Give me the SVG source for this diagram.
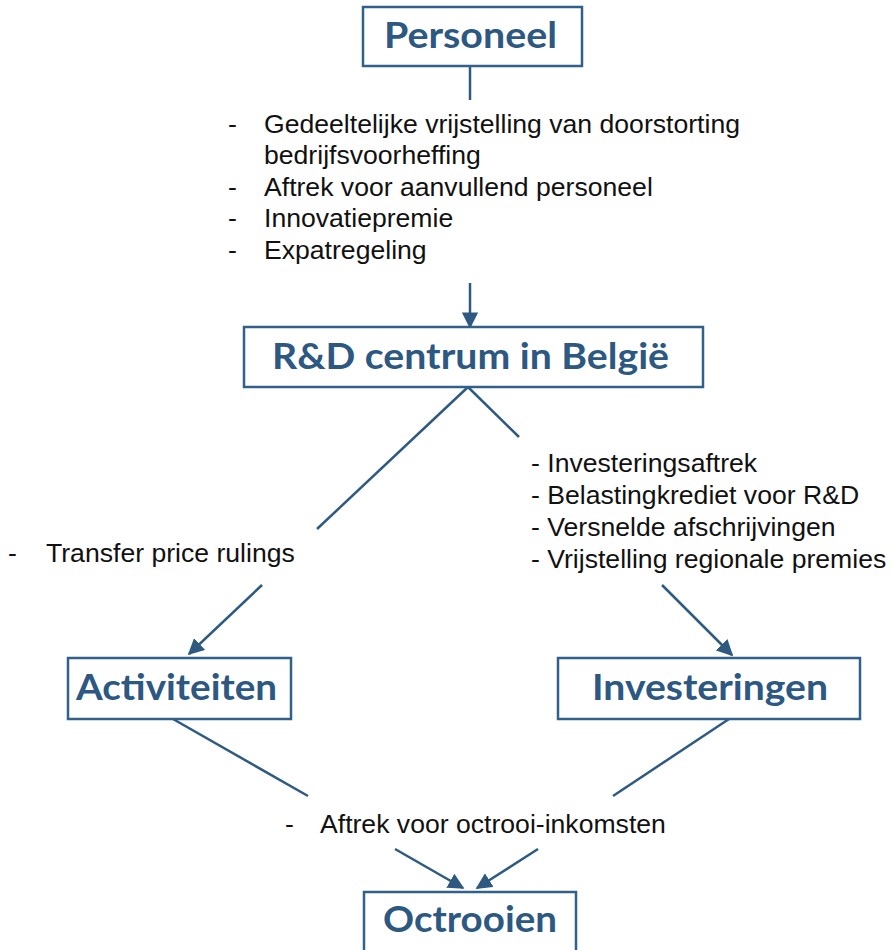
<svg xmlns="http://www.w3.org/2000/svg" width="893" height="950" viewBox="0 0 893 950">
<defs>
<marker id="ah" viewBox="0 0 10 10" refX="9" refY="5" markerWidth="6.5" markerHeight="6.5" orient="auto" markerUnits="strokeWidth">
<path d="M0,0 L10,5 L0,10 z" fill="#2E5A82"/>
</marker>
<style>
.box{fill:#fff;stroke:#31608A;stroke-width:2.5}
.lbl{font-family:Lato,"Open Sans",sans-serif;font-weight:700;font-size:37px;fill:#2C5881;text-anchor:start}
.txt{font-family:"Liberation Sans",Arial,sans-serif;font-size:26.6px;fill:#111}
.ln{stroke:#2E5A82;stroke-width:2.5;fill:none}
</style>
</defs>
<rect width="893" height="950" fill="#fff"/>
<g id="connectors">
<line class="ln" x1="470" y1="66" x2="470" y2="100"/>
<line class="ln" x1="470" y1="283" x2="470" y2="327" marker-end="url(#ah)"/>
<line class="ln" x1="468" y1="387" x2="317" y2="529"/>
<line class="ln" x1="468" y1="387" x2="519" y2="437"/>
<line class="ln" x1="262" y1="585" x2="189" y2="654" marker-end="url(#ah)"/>
<line class="ln" x1="662" y1="585" x2="732" y2="655" marker-end="url(#ah)"/>
<line class="ln" x1="173" y1="719" x2="308" y2="796"/>
<line class="ln" x1="729" y1="719" x2="613" y2="796"/>
<line class="ln" x1="395" y1="849" x2="463" y2="888" marker-end="url(#ah)"/>
<line class="ln" x1="538" y1="849" x2="477" y2="888" marker-end="url(#ah)"/>
</g>
<g id="personeel">
<rect class="box" x="363" y="7" width="219" height="59"/>
<text class="lbl" x="384" y="48" textLength="173" lengthAdjust="spacingAndGlyphs">Personeel</text>
</g>
<g id="personeel-list">
<text class="txt" x="228" y="133">-</text>
<text class="txt" x="264" y="133">Gedeeltelijke vrijstelling van doorstorting</text>
<text class="txt" x="264" y="164">bedrijfsvoorheffing</text>
<text class="txt" x="228" y="196">-</text>
<text class="txt" x="264" y="196">Aftrek voor aanvullend personeel</text>
<text class="txt" x="228" y="227">-</text>
<text class="txt" x="264" y="227">Innovatiepremie</text>
<text class="txt" x="228" y="259">-</text>
<text class="txt" x="264" y="259">Expatregeling</text>
</g>
<g id="rd">
<rect class="box" x="244" y="327" width="459" height="60"/>
<text class="lbl" x="272" y="369" textLength="397" lengthAdjust="spacingAndGlyphs">R&amp;D centrum in België</text>
</g>
<g id="transfer">
<text class="txt" x="8" y="562">-</text>
<text class="txt" x="46" y="562">Transfer price rulings</text>
</g>
<g id="invest-list">
<text class="txt" x="531" y="472">- Investeringsaftrek</text>
<text class="txt" x="531" y="504">- Belastingkrediet voor R&amp;D</text>
<text class="txt" x="531" y="536">- Versnelde afschrijvingen</text>
<text class="txt" x="531" y="568">- Vrijstelling regionale premies</text>
</g>
<g id="activiteiten">
<rect class="box" x="68" y="658" width="223" height="61"/>
<text class="lbl" x="76" y="700" textLength="201" lengthAdjust="spacingAndGlyphs">Activiteiten</text>
</g>
<g id="investeringen">
<rect class="box" x="558" y="658" width="302" height="61"/>
<text class="lbl" x="592" y="700" textLength="236" lengthAdjust="spacingAndGlyphs">Investeringen</text>
</g>
<g id="octrooi-list">
<text class="txt" x="285" y="833">-</text>
<text class="txt" x="320" y="833">Aftrek voor octrooi-inkomsten</text>
</g>
<g id="octrooien">
<rect class="box" x="364" y="892" width="212" height="70"/>
<text class="lbl" x="383" y="932" textLength="174" lengthAdjust="spacingAndGlyphs">Octrooien</text>
</g>
</svg>
